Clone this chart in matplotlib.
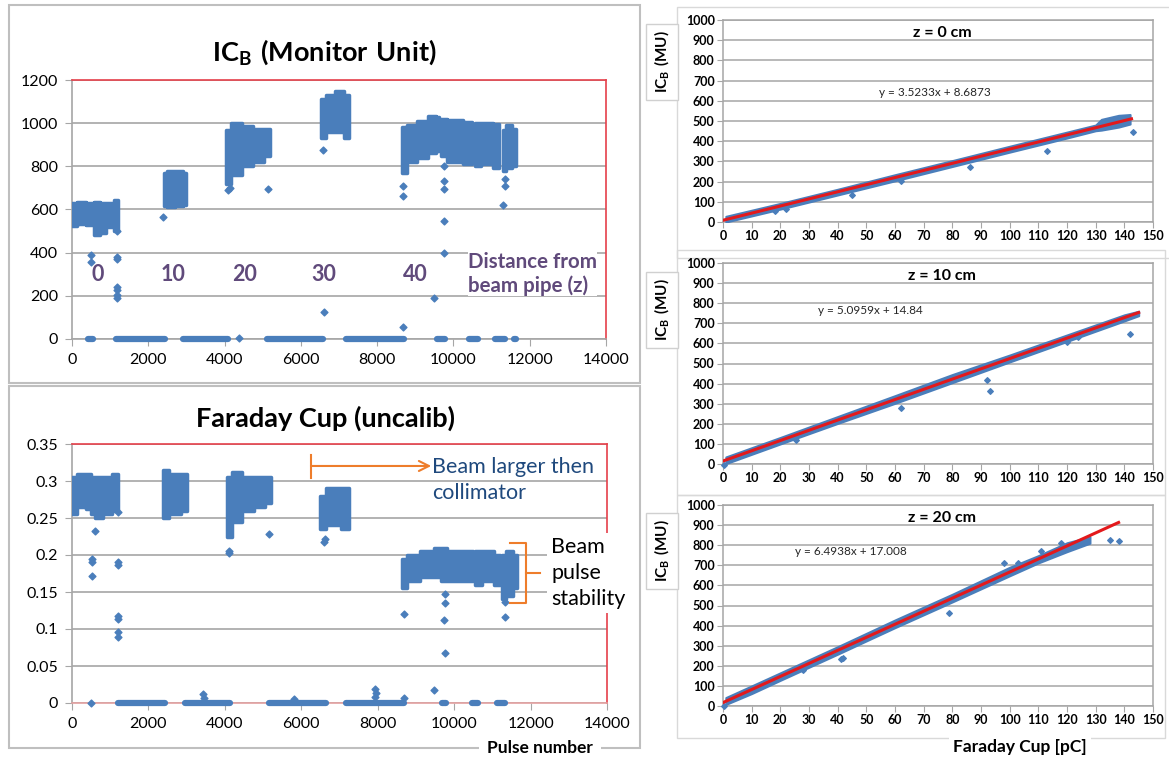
import numpy as np
import matplotlib
matplotlib.use('Agg')  # no display
import matplotlib.pyplot as plt
from matplotlib.patches import Rectangle

plt.rcParams['font.family'] = ['Lato', 'DejaVu Sans']
plt.rcParams['mathtext.fontset'] = 'custom'
plt.rcParams['mathtext.rm'] = 'Lato'
plt.rcParams['mathtext.bf'] = 'Lato:bold'

W, H = 1169, 758
BLUE = '#4a7ebb'
RED_FIT = '#e3191c'
RED_BORDER = '#e5404a'
GRID = '#a6a6a6'
PURPLE = '#604a7b'
ORANGE = '#ee7d2b'
NAVY = '#1f497d'

# ---------------- IC_B vs pulse number ----------------
icb_cluster_x = [[0, 250, 480], [500, 650, 800, 1000, 1200],
                 [2400, 2600, 2800, 3000],
                 [4050, 4300, 4600, 4900, 5190],
                 [6520, 6800, 7000, 7260],
                 [8660, 8900, 9200, 9450, 9620],
                 [9680, 10000, 10480],
                 [10570, 10900, 11200],
                 [11290, 11450, 11630]]
icb_cluster_lo = [[525, 535, 530], [530, 480, 490, 520, 500],
                  [615, 610, 615, 620],
                  [720, 760, 800, 820, 850],
                  [930, 960, 960, 930],
                  [770, 820, 840, 860, 870],
                  [850, 820, 810],
                  [800, 810, 790],
                  [780, 790, 800]]
icb_cluster_hi = [[630, 635, 630], [630, 635, 630, 630, 645],
                  [770, 780, 780, 770],
                  [970, 1000, 985, 975, 975],
                  [1110, 1130, 1150, 1130],
                  [980, 990, 1010, 1035, 1030],
                  [1020, 1015, 1005],
                  [1000, 1000, 995],
                  [970, 990, 975]]
icb_zero_start = [430, 1150, 2910, 5120, 7190, 9580, 10420, 11100, 11580]
icb_zero_end = [560, 2440, 4080, 6570, 8700, 9790, 10640, 11350, 11630]
icb_out_x = [510, 510, 1190, 1190, 1190, 1190, 1190, 1190, 1190, 2380, 4100,
             4150, 5140, 6580, 6610, 8690, 8690, 8690, 9490, 9750, 9750, 9750,
             9750, 9750, 11300, 11350, 11350, 4370]
icb_out_y = [390, 355, 382, 370, 240, 225, 205, 190, 500, 566, 692,
             700, 695, 877, 123, 54, 661, 707, 192, 730, 695, 546,
             397, 800, 620, 710, 740, 3]
icb_labels = ['0', '10', '20', '30', '40']
icb_label_x = [682, 2648, 4535, 6607, 8993]

# ---------------- Faraday cup vs pulse number ----------------
fc_cluster_x = [[0, 250, 500], [500, 700, 900, 1200],
                [2380, 2700, 3000],
                [4050, 4300, 4600, 4900, 5200],
                [6490, 6800, 7260],
                [8630, 8900, 9300, 9640],
                [9650, 10000, 10500],
                [10550, 10900, 11190],
                [11250, 11450, 11650]]
fc_cluster_lo = [[0.255, 0.265, 0.262], [0.255, 0.250, 0.255, 0.260],
                 [0.250, 0.255, 0.260],
                 [0.225, 0.245, 0.260, 0.265, 0.270],
                 [0.235, 0.240, 0.235],
                 [0.155, 0.165, 0.170, 0.170],
                 [0.165, 0.165, 0.165],
                 [0.160, 0.165, 0.160],
                 [0.140, 0.145, 0.155]]
fc_cluster_hi = [[0.305, 0.310, 0.310], [0.305, 0.305, 0.305, 0.310],
                 [0.315, 0.310, 0.310],
                 [0.305, 0.312, 0.305, 0.305, 0.305],
                 [0.280, 0.290, 0.290],
                 [0.195, 0.200, 0.205, 0.210],
                 [0.210, 0.205, 0.205],
                 [0.205, 0.205, 0.200],
                 [0.200, 0.205, 0.200]]
fc_zero_start = [1200, 2960, 5150, 7180, 9680, 10460, 11120, 11610]
fc_zero_end = [2430, 4140, 6650, 8680, 9780, 10620, 11320, 11630]
fc_out_x = [500, 520, 520, 520, 600, 1200, 1200, 1200, 1200, 1200, 1200, 1200,
            4100, 4110, 5150, 6600, 6620, 8680, 9480, 9750, 9750, 9740, 9750,
            11330, 11330, 3420, 3450, 5800, 7930, 7950, 7920, 8680]
fc_out_y = [0.0, 0.195, 0.19, 0.172, 0.232, 0.19, 0.186, 0.117, 0.114, 0.096,
            0.089, 0.258, 0.205, 0.203, 0.228, 0.218, 0.222, 0.12, 0.018,
            0.147, 0.135, 0.112, 0.067, 0.116, 0.137, 0.012, 0.007, 0.005,
            0.019, 0.013, 0.008, 0.007]

# ---------------- IC_B vs Faraday cup, three distances ----------------
z_titles = ['z = 0 cm', 'z = 10 cm', 'z = 20 cm']
fit_slope = [3.5233, 5.0959, 6.4938]
fit_icept = [8.6873, 14.84, 17.008]
fit_xmax = [142.5, 145, 138]
fit_text = ['y = 3.5233x + 8.6873', 'y = 5.0959x + 14.84', 'y = 6.4938x + 17.008']
fit_text_x = [74, 51.5, 44.6]
fit_text_y = [640, 766, 771]
band_x = [[1, 20, 40, 60, 80, 100, 120, 130, 132, 138, 142],
          [1, 20, 40, 60, 80, 100, 120, 140, 145],
          [1, 10, 20, 40, 60, 80, 100, 110, 120, 128]]
band_lo = [[0, 64, 134, 204, 275, 346, 416, 452, 455, 470, 485],
           [2, 100, 202, 302, 405, 508, 610, 712, 738],
           [8, 62, 128, 258, 390, 518, 648, 712, 768, 810]]
band_hi = [[28, 92, 162, 234, 304, 375, 445, 480, 508, 528, 532],
           [35, 132, 236, 340, 445, 542, 642, 742, 760],
           [42, 100, 165, 295, 428, 556, 690, 748, 812, 842]]
scat_x = [[18, 22, 45, 62, 86, 113, 143],
          [0.5, 25.5, 62, 92, 93, 142, 124, 120],
          [0.5, 28, 41, 42, 79, 98, 103, 111, 118, 135, 138]]
scat_y = [[55, 63, 133, 205, 272, 352, 445],
          [-5, 118, 280, 420, 362, 645, 630, 608],
          [0, 180, 235, 240, 462, 712, 712, 772, 810, 825, 822]]


def box(l, t, r, b):
    return [l / W, 1 - b / H, (r - l) / W, (b - t) / H]


def frame(fig, l, t, r, b, color='#bfbfbf', lw=1.5):
    fig.add_artist(Rectangle((l / W, 1 - b / H), (r - l) / W, (b - t) / H,
                             transform=fig.transFigure, fill=False,
                             edgecolor=color, lw=lw, zorder=0))


def style_time_axes(ax, ymax, ystep):
    ax.set_xlim(0, 14000)
    ax.set_ylim(0, ymax)
    ax.set_xticks(np.arange(0, 14001, 2000))
    ax.set_yticks(np.arange(0, ymax + ystep / 2, ystep))
    ax.grid(axis='y', color=GRID, lw=1.2)
    ax.set_axisbelow(True)
    for s in ['top', 'right']:
        ax.spines[s].set_color(RED_BORDER)
        ax.spines[s].set_linewidth(1.2)
    for s in ['left', 'bottom']:
        ax.spines[s].set_color(GRID)
        ax.spines[s].set_linewidth(1.2)
    ax.tick_params(direction='out', length=5, color=GRID, labelsize=11.5,
                   pad=5)


def clusters(ax, xs_list, lo_list, hi_list):
    for xs, lo, hi in zip(xs_list, lo_list, hi_list):
        ax.fill_between(xs, lo, hi, step='mid', color=BLUE, lw=2.5,
                        zorder=3)


def zero_runs(ax, starts, ends):
    lc = ax.hlines(np.zeros(len(starts)), starts, ends, colors=BLUE, lw=4.5,
                   zorder=3, clip_on=False)
    lc.set_capstyle('round')


fig = plt.figure(figsize=(W / 100, H / 100), dpi=100)

frame(fig, 9, 5, 640, 383)
frame(fig, 9, 386, 640, 748)
frame(fig, 677, 7, 1175, 258, color='#d9d9d9', lw=1)
frame(fig, 677, 250, 1165, 495, color='#d9d9d9', lw=1)
frame(fig, 677, 495, 1165, 738, color='#d9d9d9', lw=1)

# ---- top left: IC_B ----
ax1 = fig.add_axes(box(72, 80, 606, 339))
style_time_axes(ax1, 1200, 200)
clusters(ax1, icb_cluster_x, icb_cluster_lo, icb_cluster_hi)
zero_runs(ax1, icb_zero_start, icb_zero_end)
ax1.scatter(icb_out_x, icb_out_y, s=12, marker='D', color=BLUE, zorder=3,
            clip_on=False)
for lab, x in zip(icb_labels, icb_label_x):
    ax1.text(x, 301, lab, color=PURPLE, fontsize=15.5, fontweight='bold',
             ha='center', va='center')
ax1.text(10380, 301, 'Distance from\nbeam pipe (z)', color=PURPLE,
         fontsize=14.8, fontweight='bold', ha='left', va='center',
         linespacing=1.2,
         bbox=dict(facecolor='white', edgecolor='none', pad=0))
fig.text(324 / W, 1 - 52 / H, r'$\mathbf{IC_B\ (Monitor\ Unit)}$',
         fontsize=19.5, ha='center', va='center')

# ---- bottom left: Faraday cup ----
ax2 = fig.add_axes(box(72, 444, 607, 703))
style_time_axes(ax2, 0.35, 0.05)
ax2.set_yticklabels(['0', '0.05', '0.1', '0.15', '0.2', '0.25', '0.3', '0.35'])
ax2.spines['bottom'].set_color('#e3a0a0')
clusters(ax2, fc_cluster_x, fc_cluster_lo, fc_cluster_hi)
zero_runs(ax2, fc_zero_start, fc_zero_end)
ax2.scatter(fc_out_x, fc_out_y, s=12, marker='D', color=BLUE, zorder=3,
            clip_on=False)
ax2.plot([6254, 6254], [0.304, 0.335], color=ORANGE, lw=1.5, zorder=4)
ax2.annotate('', xy=(9400, 0.3203), xytext=(6254, 0.3203),
             arrowprops=dict(arrowstyle='->', color=ORANGE, lw=1.5,
                             mutation_scale=18, shrinkA=0, shrinkB=0))
ax2.text(9430, 0.3013, 'Beam larger then\ncollimator', color=NAVY,
         fontsize=15.5, ha='left', va='center', linespacing=1.35)
ax2.text(12535, 0.1757, 'Beam\npulse\nstability', color='black',
         fontsize=15.5, ha='left', va='center', linespacing=1.35, zorder=6,
         clip_on=False,
         bbox=dict(facecolor='white', edgecolor='none', pad=3))
ax2.plot([11462, 11880, 11880, 11462], [0.2162, 0.2162, 0.1351, 0.1351],
         color=ORANGE, lw=1.5, zorder=7, clip_on=False)
ax2.plot([11880, 12247], [0.1757, 0.1757], color=ORANGE, lw=1.5, zorder=7,
         clip_on=False)
fig.text(325 / W, 1 - 418 / H, 'Faraday Cup (uncalib)', fontsize=19.5,
         fontweight='bold', ha='center', va='center')
fig.text(540 / W, 1 - 748 / H, 'Pulse number', fontsize=12.5,
         fontweight='bold', ha='center', va='center',
         bbox=dict(facecolor='white', edgecolor='none', pad=6))

# ---- right: IC_B vs Faraday cup ----
right_boxes = [(723, 20, 1153, 222), (723, 263, 1153, 464), (723, 505, 1153, 706)]
label_centres = [62, 310, 551]
for i, b in enumerate(right_boxes):
    ax = fig.add_axes(box(*b))
    ax.set_xlim(0, 150)
    ax.set_ylim(0, 1000)
    ax.set_xticks(np.arange(0, 151, 10))
    ax.set_yticks(np.arange(0, 1001, 100))
    ax.grid(axis='y', color=GRID, lw=1.1)
    ax.set_axisbelow(True)
    for s in ax.spines.values():
        s.set_color(GRID)
        s.set_linewidth(1.1)
    ax.tick_params(direction='out', length=4, color=GRID, labelsize=9,
                   pad=2)
    for t in ax.get_xticklabels() + ax.get_yticklabels():
        t.set_fontweight('bold')
    ax.fill_between(band_x[i], band_lo[i], band_hi[i], color=BLUE, lw=1.5,
                    zorder=3)
    ax.scatter(scat_x[i], scat_y[i], s=8, marker='D', color=BLUE, zorder=3,
               clip_on=False)
    fx = np.array([0, fit_xmax[i]])
    ax.plot(fx, fit_slope[i] * fx + fit_icept[i], color=RED_FIT, lw=2.2,
            zorder=4)
    ax.text(0.51, 0.935, z_titles[i], transform=ax.transAxes, fontsize=11.5,
            fontweight='bold', ha='center', va='center')
    ax.text(fit_text_x[i], fit_text_y[i], fit_text[i], fontsize=8.5,
            color='#262626', ha='center', va='center')
    fig.text(662 / W, 1 - label_centres[i] / H, r'$\mathbf{IC_B\ (MU)}$',
             rotation=90, fontsize=11, ha='center', va='center',
             bbox=dict(facecolor='white', edgecolor='#d0d0d0', pad=5))

fig.text(1020 / W, 1 - 747 / H, 'Faraday Cup [pC]', fontsize=12.5,
         fontweight='bold', ha='center', va='center',
         bbox=dict(facecolor='white', edgecolor='none', pad=3))

fig.savefig('out.png', dpi=100)
